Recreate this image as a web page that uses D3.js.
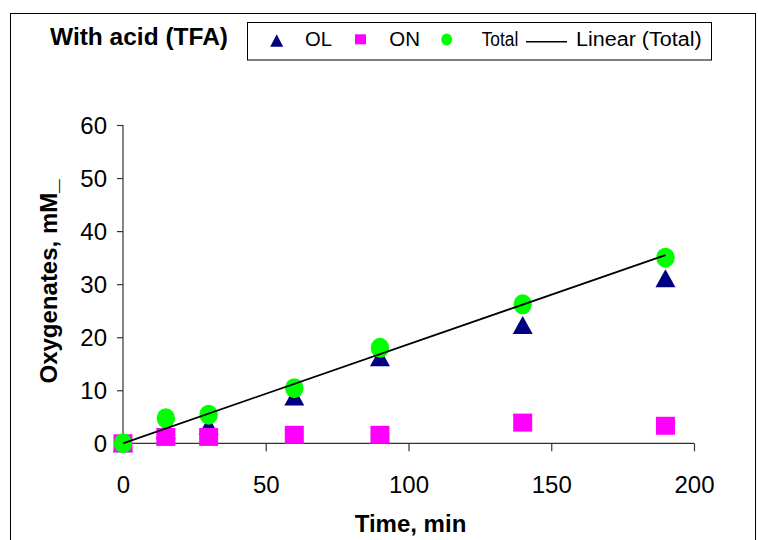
<!DOCTYPE html>
<html>
<head>
<meta charset="utf-8">
<script src="https://cdn.jsdelivr.net/npm/d3@7"></script>
<style>
  html, body { margin: 0; padding: 0; background: #fff; }
  svg { display: block; font-family: "Liberation Sans", Arial, sans-serif; }
</style>
</head>
<body>
<script>
// ---- data ----
const times = [0, 15, 30, 60, 90, 140, 190];
const olValues = [0, 2.5, 3.3, 8.8, 16.2, 22.3, 31.1];
const onValues = [0, 1.2, 1.2, 1.6, 1.6, 3.9, 3.3];
const totalValues = [0, 4.7, 5.4, 10.4, 18.0, 26.2, 35.0];
const xTicks = [0, 50, 100, 150, 200];
const yTicks = [0, 10, 20, 30, 40, 50, 60];
const legendLabels = ["OL", "ON", "Total", "Linear (Total)"];

const W = 758, H = 540;
const svg = d3.select("body").append("svg").attr("width", W).attr("height", H);

// outer frame
svg.append("rect").attr("x", 10.5).attr("y", 13.5).attr("width", 745).attr("height", 560)
  .attr("fill", "none").attr("stroke", "#000").attr("stroke-width", 1);

const x = d3.scaleLinear().domain([0, 200]).range([123, 694]);
const y = d3.scaleLinear().domain([0, 60]).range([443.3, 125]);

const axisColor = "#333";

// x axis
const xAxis = svg.append("g").attr("transform", `translate(0,${y(0)})`)
  .call(d3.axisBottom(x).tickValues(xTicks).tickSize(8).tickPadding(23).tickFormat(d3.format("d")));
// y axis
const yAxis = svg.append("g").attr("transform", `translate(${x(0)},0)`)
  .call(d3.axisLeft(y).tickValues(yTicks).tickSize(6).tickPadding(10).tickFormat(d3.format("d")));

[xAxis, yAxis].forEach(g => {
  g.select(".domain").attr("stroke", axisColor).attr("stroke-width", 1.2)
    .attr("d", null);
  g.selectAll(".tick line").attr("stroke", axisColor).attr("stroke-width", 1.2);
  g.selectAll(".tick text").attr("fill", "#000").attr("font-size", 24)
    .attr("font-family", "'Liberation Sans', Arial, sans-serif");
});
xAxis.select(".domain").attr("d", `M${x(0)},0H${x(200)}`);
yAxis.select(".domain").attr("d", `M0,${y(0)}V${y(60)}`);
yAxis.selectAll(".tick text").attr("dy", "0.36em");
xAxis.selectAll(".tick text").attr("dy", "0");
xAxis.selectAll(".tick text").attr("y", 50);

// markers
function triPath(cx, cy, w, h) {
  return `M${cx},${cy - h / 2}L${cx + w / 2},${cy + h / 2}L${cx - w / 2},${cy + h / 2}Z`;
}
const pts = (vals) => times.map((t, i) => ({ t, v: vals[i] }));

svg.append("g").selectAll("path").data(pts(olValues)).join("path")
  .attr("d", d => triPath(x(d.t), y(d.v), 20, 18))
  .attr("fill", "#000080");

svg.append("g").selectAll("rect").data(pts(onValues)).join("rect")
  .attr("x", d => x(d.t) - 9.5).attr("y", d => y(d.v) - 9)
  .attr("width", 19).attr("height", 18)
  .attr("fill", "#FF00FF");

svg.append("g").selectAll("ellipse").data(pts(totalValues)).join("ellipse")
  .attr("cx", d => x(d.t)).attr("cy", d => y(d.v))
  .attr("rx", 9.2).attr("ry", 10)
  .attr("fill", "#00FF00");

// linear trendline (least squares through origin, fitted to Total)
const sxy = d3.sum(times, (t, i) => t * totalValues[i]);
const sxx = d3.sum(times, t => t * t);
const slope = sxy / sxx;
const tExt = d3.extent(times);
svg.append("path")
  .attr("d", d3.line().x(d => x(d)).y(d => y(slope * d))(tExt))
  .attr("stroke", "#000").attr("stroke-width", 1.8).attr("fill", "none");

// title
svg.append("text").attr("x", 50).attr("y", 45)
  .attr("font-size", 24).attr("font-weight", "bold")
  .attr("textLength", 178).attr("lengthAdjust", "spacingAndGlyphs")
  .text("With acid (TFA)");

// axis titles
svg.append("text").attr("x", 410.5).attr("y", 531.5)
  .attr("text-anchor", "middle").attr("font-size", 24).attr("font-weight", "bold")
  .text("Time, min");
svg.append("text")
  .attr("transform", "translate(56.5,383.5) rotate(-90)")
  .attr("text-anchor", "start").attr("font-size", 24).attr("font-weight", "bold")
  .text("Oxygenates, mM_");

// legend
const lg = svg.append("g");
lg.append("rect").attr("x", 247.5).attr("y", 22.5).attr("width", 464).attr("height", 37.5)
  .attr("fill", "#fff").attr("stroke", "#000").attr("stroke-width", 1);
lg.append("path").attr("d", triPath(276.7, 40.5, 13, 12.5)).attr("fill", "#000080");
lg.append("rect").attr("x", 355).attr("y", 34.3).attr("width", 11).attr("height", 10).attr("fill", "#FF00FF");
lg.append("ellipse").attr("cx", 446.7).attr("cy", 39.5).attr("rx", 5.4).attr("ry", 5.9).attr("fill", "#00FF00");
lg.append("line").attr("x1", 526).attr("x2", 567).attr("y1", 41.7).attr("y2", 41.7)
  .attr("stroke", "#000").attr("stroke-width", 1.5);
const legTexts = [
  { x: 305, w: 27 },
  { x: 389.3, w: 30.7 },
  { x: 481.7, w: 36.6 },
  { x: 576, w: 125.7 }
];
legendLabels.forEach((lab, i) => {
  lg.append("text").attr("x", legTexts[i].x).attr("y", 46)
    .attr("font-size", 20)
    .attr("textLength", legTexts[i].w).attr("lengthAdjust", "spacingAndGlyphs")
    .text(lab);
});
</script>
</body>
</html>
